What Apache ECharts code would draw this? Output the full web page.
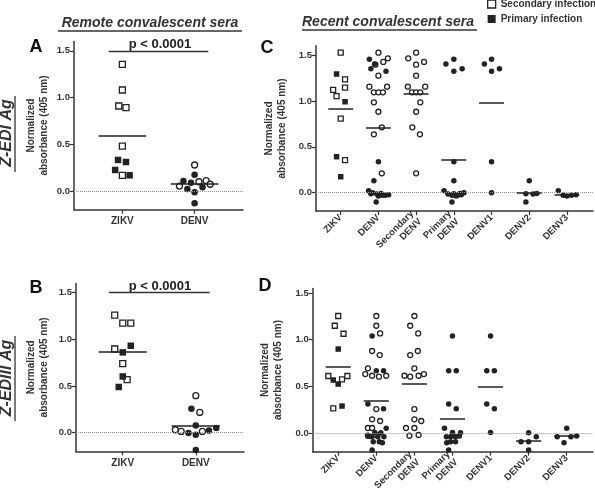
<!DOCTYPE html>
<html>
<head>
<meta charset="utf-8">
<script src="https://cdn.jsdelivr.net/npm/echarts@6/dist/echarts.min.js"></script>
<style>
  html, body { margin: 0; padding: 0; background: #fff; }
  #chart { width: 595px; height: 503px; }
</style>
</head>
<body>
<div id="chart"></div>
<script>
// columns / ticks
const catsAB = ['ZIKV', 'DENV'];
const catsCD = ['ZIKV', 'DENV', 'Secondary\nDENV', 'Primary\nDENV', 'DENV1', 'DENV2', 'DENV3'];
const yTicks = [0, 0.5, 1.0, 1.5];

// every point is [jitter inside its column, normalized absorbance]
// open = secondary infection, filled = primary infection

// A: Z-EDI Ag, remote convalescent sera
const A_ZIKV_open = [[0, 1.355], [0, 1.080], [-0.05, 0.909], [0.05, 0.891], [0, 0.481], [0, 0.168]];
const A_ZIKV_fill = [[-0.06, 0.332], [0.05, 0.310], [-0.1, 0.225], [0.1, 0.168]];
const A_DENV_open = [[0, 0.278], [0.06, 0.099], [0.16, 0.110], [0.215, 0.072], [-0.21, 0.053]];
const A_DENV_fill = [[0, 0.174], [-0.155, 0.107], [-0.05, 0.089], [-0.1, 0.021], [0, -0.014], [0.11, 0.040], [0, -0.132]];

// B: Z-EDIII Ag, remote convalescent sera
const B_ZIKV_open = [[-0.11, 1.261], [0, 1.175], [0.11, 1.175], [-0.11, 0.897], [0, 0.740], [0.06, 0.568]];
const B_ZIKV_fill = [[0.11, 0.932], [0, 0.861], [0, 0.603], [-0.055, 0.490]];
const B_DENV_open = [[0, 0.397], [0.055, 0.218], [-0.28, 0.032], [-0.2, 0.014], [0.09, 0.014]];
const B_DENV_fill = [[-0.06, 0.257], [0, 0.078], [-0.1, -0.004], [0, -0.021], [0.18, 0.025], [0.28, 0.050], [0, -0.185]];

// C: Z-EDI Ag, recent convalescent sera
const C_ZIKV_open = [[0, 1.525], [0.115, 1.235], [-0.2, 1.119], [0.115, 1.144], [-0.11, 1.053], [0, 0.806], [0.115, 0.356]];
const C_ZIKV_fill = [[-0.11, 1.293], [0.115, 0.991], [-0.11, 0.392], [0, 0.174]];
const C_DENV_open = [[0, 1.525], [0.25, 1.464], [0.13, 1.424], [-0.08, 1.394], [0, 1.275], [-0.24, 1.155], [0.23, 1.155],
  [-0.12, 1.093], [0, 1.093], [0.12, 1.093], [-0.12, 0.985], [0, 0.882], [0.09, 0.712], [-0.12, 0.636], [0.09, 0.211]];
const C_DENV_fill = [[-0.24, 1.453], [-0.1, 1.402], [-0.2, 1.351], [0.2, 1.322], [0, 0.338], [-0.12, 0.131], [-0.26, 0.022],
  [-0.15, 0.0], [-0.04, -0.014], [0.07, -0.007], [0.18, -0.028], [0.27, -0.022], [-0.06, -0.101], [0, -0.036], [0.1, -0.028], [-0.2, -0.01]];
const C_SEC_open = [[0, 1.525], [-0.21, 1.464], [0.21, 1.424], [0, 1.394], [0, 1.275], [-0.22, 1.155], [0.24, 1.155],
  [-0.11, 1.093], [0, 1.093], [0.11, 1.093], [0.11, 0.985], [0, 0.882], [-0.1, 0.712], [0.1, 0.636], [0, 0.211]];
const C_PRI_fill = [[-0.21, 1.402], [0, 1.453], [0, 1.322], [0.22, 1.351], [0, 0.338], [0, 0.131], [-0.26, 0.022], [-0.155, -0.014],
  [-0.05, -0.028], [0.06, -0.036], [0.16, -0.007], [0.27, 0.0], [-0.05, -0.101], [0, -0.01], [0.1, -0.028], [0.2, -0.022]];
const C_D1_fill = [[-0.19, 1.402], [0, 1.453], [0, 1.322], [0.21, 1.351], [0, 0.338], [0, 0.0]];
const C_D2_fill = [[0, 0.131], [-0.09, -0.01], [0.1, -0.014], [0.2, -0.007], [-0.09, -0.101]];
const C_D3_fill = [[-0.23, 0.022], [-0.1, -0.028], [0, -0.036], [0.12, -0.028], [0.24, -0.022]];

// D: Z-EDIII Ag, recent convalescent sera
const D_ZIKV_open = [[0, 1.254], [-0.09, 1.150], [0.14, 1.064], [-0.26, 0.611], [0.1, 0.575], [0.24, 0.611], [-0.13, 0.265]];
const D_ZIKV_fill = [[0, 0.900], [-0.13, 0.568], [0, 0.525], [0.1, 0.289]];
const D_DENV_open = [[0, 1.254], [0, 1.150], [0.1, 1.068], [-0.11, 0.879], [0.09, 0.836], [-0.22, 0.693], [-0.29, 0.632], [-0.11, 0.614],
  [0.07, 0.604], [0.26, 0.614], [0, 0.257], [-0.11, 0.147], [0.1, 0.129], [-0.22, 0.054], [-0.11, 0.054], [-0.22, -0.029], [0, -0.021]];
const D_DENV_fill = [[-0.11, 1.040], [0, 0.668], [0.19, 0.668], [-0.22, 0.311], [0.19, 0.261], [0.26, 0.050], [-0.04, 0.007], [0.12, 0.003],
  [-0.12, -0.039], [0.2, -0.039], [0.04, -0.039], [-0.2, -0.032], [-0.08, -0.093], [0.08, -0.093], [0.16, -0.104], [-0.11, -0.182]];
const D_SEC_open = [[0, 1.254], [-0.11, 1.150], [0.1, 1.068], [0.09, 0.879], [-0.11, 0.836], [0, 0.693], [0.25, 0.632], [0.11, 0.614],
  [-0.11, 0.604], [-0.26, 0.614], [0, 0.257], [0, 0.147], [0.18, 0.129], [-0.22, 0.054], [0, 0.054], [-0.13, -0.029], [0.11, -0.021]];
const D_PRI_fill = [[0, 1.040], [-0.1, 0.668], [0.1, 0.668], [-0.1, 0.311], [0.1, 0.261], [-0.21, 0.050], [0, 0.007], [0.21, 0.003],
  [-0.16, -0.039], [-0.05, -0.039], [0.08, -0.039], [0.18, -0.032], [-0.05, -0.093], [0.08, -0.093], [-0.15, -0.104], [-0.1, -0.182]];
const D_D1_fill = [[0, 1.040], [-0.1, 0.668], [0.1, 0.668], [-0.1, 0.311], [0.1, 0.261], [0, 0.007]];
const D_D2_fill = [[0, 0.003], [0.2, -0.039], [-0.2, -0.093], [0, -0.093], [0, -0.182]];
const D_D3_fill = [[0, 0.050], [-0.25, -0.039], [0.11, -0.039], [0.26, -0.032], [-0.07, -0.104]];

const FONT = 'Arial, "Liberation Sans", sans-serif';
const INK = '#222';
const SEC = 'Secondary infection';
const PRI = 'Primary infection';

// [column index, open points, filled points, symbol]
const panels = [
  { cols: [[0, A_ZIKV_open, A_ZIKV_fill, 'rect'], [1, A_DENV_open, A_DENV_fill, 'circle']], size: 7 },
  { cols: [[0, B_ZIKV_open, B_ZIKV_fill, 'rect'], [1, B_DENV_open, B_DENV_fill, 'circle']], size: 7 },
  { cols: [[0, C_ZIKV_open, C_ZIKV_fill, 'rect'], [1, C_DENV_open, C_DENV_fill, 'circle'], [2, C_SEC_open, [], 'circle'],
    [3, [], C_PRI_fill, 'circle'], [4, [], C_D1_fill, 'circle'], [5, [], C_D2_fill, 'circle'], [6, [], C_D3_fill, 'circle']], size: 6 },
  { cols: [[0, D_ZIKV_open, D_ZIKV_fill, 'rect'], [1, D_DENV_open, D_DENV_fill, 'circle'], [2, D_SEC_open, [], 'circle'],
    [3, [], D_PRI_fill, 'circle'], [4, [], D_D1_fill, 'circle'], [5, [], D_D2_fill, 'circle'], [6, [], D_D3_fill, 'circle']], size: 6 },
];

const place = (cat, pts) => pts.map((p) => [cat + p[0], p[1]]);
const mean = (pts) => pts.reduce((s, p) => s + p[1], 0) / pts.length;

const grids = [
  { left: 74, top: 41.4, width: 169, height: 168.3 },
  { left: 76, top: 283.4, width: 168, height: 168 },
  { left: 316, top: 45.8, width: 277, height: 165.3 },
  { left: 312.7, top: 288.4, width: 280.3, height: 163.3 },
];

function xAxis(gi, cats, min, max, rotate) {
  const idx = cats.map((c, i) => i);
  return {
    type: 'value', gridIndex: gi, min, max,
    axisLine: { onZero: false, lineStyle: { color: '#333', width: 1.5 } },
    axisTick: { show: true, customValues: idx, length: 4, lineStyle: { color: '#333', width: 1.2 } },
    axisLabel: {
      customValues: idx, formatter: (v) => cats[Math.round(v)], rotate,
      margin: rotate ? 5 : 6, fontSize: rotate ? 9.5 : 10, fontWeight: 'bold', color: '#333', fontFamily: FONT, lineHeight: 11,
    },
    splitLine: { show: false },
  };
}

function yAxis(gi, max, gap) {
  return {
    type: 'value', gridIndex: gi, min: -0.2, max,
    name: 'Normalized\nabsorbance (405 nm)', nameLocation: 'middle', nameGap: gap,
    nameTextStyle: { fontSize: 10, fontWeight: 'bold', color: '#333', lineHeight: 13, fontFamily: FONT },
    axisLine: { show: true, onZero: false, lineStyle: { color: '#333', width: 1.5 } },
    axisTick: { show: true, customValues: yTicks, length: 4, lineStyle: { color: '#333', width: 1.2 } },
    axisLabel: { customValues: yTicks, formatter: (v) => v.toFixed(1), fontSize: 9.5, fontWeight: 'bold', color: '#333', margin: 4, fontFamily: FONT },
    splitLine: { show: false },
  };
}

const series = [];
panels.forEach((p, gi) => {
  const meanLines = [{ yAxis: 0, lineStyle: { color: '#999', type: 'dotted', width: 1 } }];
  p.cols.forEach(([cat, open, fill, shape]) => {
    if (open.length) {
      series.push({
        type: 'scatter', name: SEC, xAxisIndex: gi, yAxisIndex: gi, symbol: shape, symbolSize: p.size - 1,
        itemStyle: { color: '#fff', borderColor: INK, borderWidth: 1.3, opacity: 1 },
        data: place(cat, open),
      });
    }
    if (fill.length) {
      series.push({
        type: 'scatter', name: PRI, xAxisIndex: gi, yAxisIndex: gi, symbol: shape, symbolSize: p.size - 0.5,
        itemStyle: { color: INK, opacity: 1 },
        data: place(cat, fill),
      });
    }
    const m = mean(open.concat(fill));
    meanLines.push([{ coord: [cat - 0.33, m] }, { coord: [cat + 0.33, m] }]);
  });
  series.push({
    type: 'scatter', xAxisIndex: gi, yAxisIndex: gi, data: [],
    markLine: { silent: true, symbol: ['none', 'none'], label: { show: false }, lineStyle: { color: INK, width: 1.5, type: 'solid' }, data: meanLines },
  });
});

// significance bars over A and B
[0, 1].forEach((gi) => {
  series.push({
    type: 'scatter', xAxisIndex: gi, yAxisIndex: gi, data: [],
    markLine: { silent: true, symbol: ['none', 'none'], label: { show: false }, lineStyle: { color: '#333', width: 1.3, type: 'solid' },
      data: [[{ coord: [-0.19, 1.5] }, { coord: [1.19, 1.5] }]] },
  });
});

const txt = (x, y, text, size, extra) => ({
  type: 'text', x, y, ...(extra || {}),
  style: { text, font: `bold ${size}px ${FONT}`, fill: '#333', align: 'center', verticalAlign: 'middle', ...((extra && extra.style) || {}) },
});
const line = (x1, y1, x2, y2, w) => ({ type: 'line', shape: { x1, y1, x2, y2 }, style: { stroke: '#333', lineWidth: w || 1.3 } });

const graphic = [
  txt(150, 23, 'Remote convalescent sera', 14, { style: { font: `italic bold 14px ${FONT}` } }),
  line(58, 31, 242, 31),
  txt(388, 22, 'Recent convalescent sera', 14, { style: { font: `italic bold 14px ${FONT}` } }),
  line(302, 30, 477, 30),
  { type: 'text', x: 7, y: 133, rotation: Math.PI / 2, style: { text: 'Z-EDI Ag', font: `italic bold 16px ${FONT}`, fill: '#333', align: 'center', verticalAlign: 'middle' } },
  line(15, 96, 15, 172),
  { type: 'text', x: 7, y: 378, rotation: Math.PI / 2, style: { text: 'Z-EDIII Ag', font: `italic bold 16px ${FONT}`, fill: '#333', align: 'center', verticalAlign: 'middle' } },
  line(15, 336, 15, 421),
  txt(36, 47, 'A', 18, { style: { fill: '#111' } }),
  txt(36, 288, 'B', 18, { style: { fill: '#111' } }),
  txt(267, 48, 'C', 18, { style: { fill: '#111' } }),
  txt(265, 286, 'D', 18, { style: { fill: '#111' } }),
  txt(160, 44, 'p < 0.0001', 13, { style: { fill: '#222' } }),
  txt(160, 286, 'p < 0.0001', 13, { style: { fill: '#222' } }),
];

const chart = echarts.init(document.getElementById('chart'), null, { renderer: 'canvas' });
chart.setOption({
  animation: false,
  backgroundColor: '#fff',
  textStyle: { fontFamily: FONT },
  legend: {
    orient: 'vertical', left: 487, top: -1, padding: 0, itemWidth: 8, itemHeight: 8, itemGap: 5, icon: 'rect',
    textStyle: { fontSize: 10, fontWeight: 'bold', color: '#333', fontFamily: FONT },
    data: [
      { name: SEC, itemStyle: { color: '#fff', borderColor: INK, borderWidth: 1.3 } },
      { name: PRI, itemStyle: { color: INK } },
    ],
  },
  grid: grids,
  xAxis: [
    xAxis(0, catsAB, -0.67, 1.67, 0),
    xAxis(1, catsAB, -0.64, 1.66, 0),
    xAxis(2, catsCD, -0.655, 6.69, 45),
    xAxis(3, catsCD, -0.67, 6.69, 45),
  ],
  yAxis: [
    yAxis(0, 1.6, 23),
    yAxis(1, 1.6, 25),
    yAxis(2, 1.6, 27),
    yAxis(3, 1.55, 28),
  ],
  series,
  graphic,
});
</script>
</body>
</html>
